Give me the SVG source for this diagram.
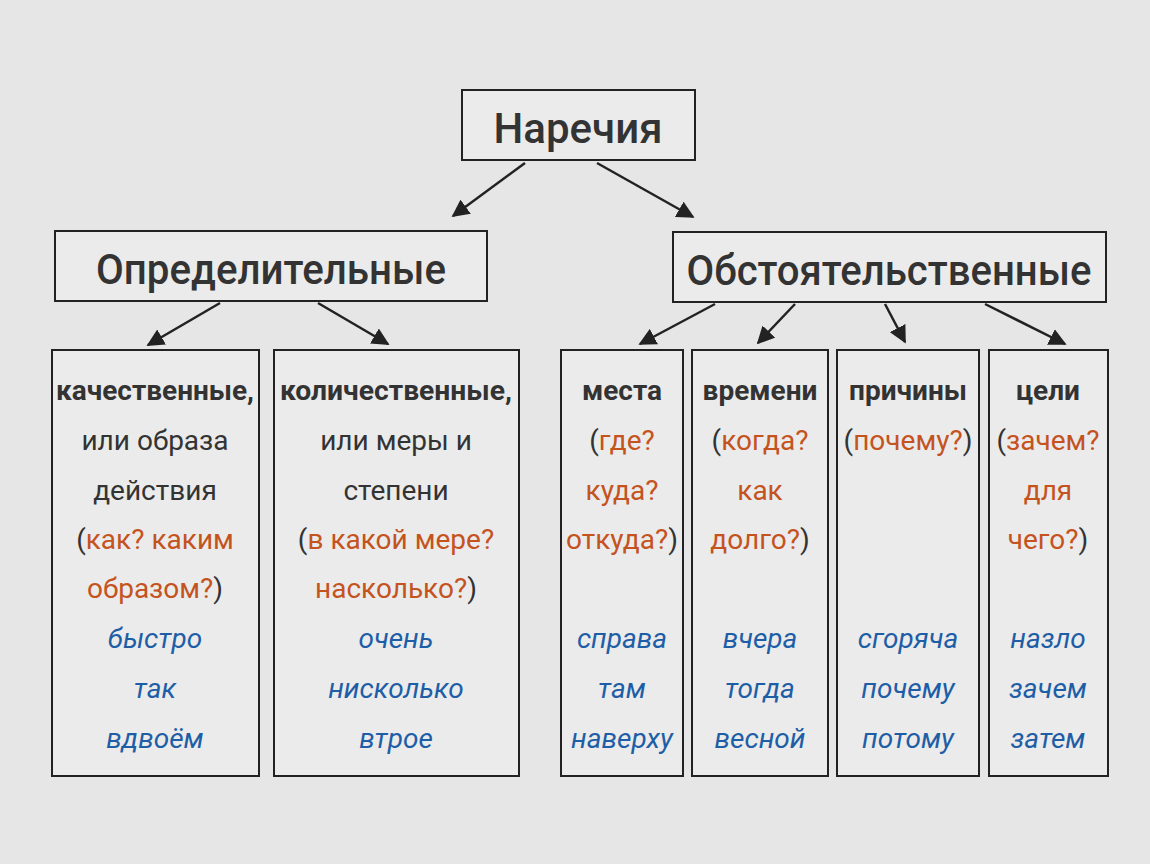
<svg xmlns="http://www.w3.org/2000/svg" width="1150" height="864" viewBox="0 0 1150 864">
<defs>
<marker id="ah" viewBox="0 0 10 10" refX="9" refY="5" markerWidth="7" markerHeight="7" orient="auto-start-reverse"><path d="M0,0 L10,5 L0,10 z" fill="#222"/></marker>
<style>
.box{fill:#ebebeb;stroke:#222;stroke-width:2}
text{font-family:Roboto,"Noto Sans",sans-serif;fill:#333;text-anchor:middle}
.h{font-size:42px;font-weight:500}
.t{font-size:28px}
.b{font-weight:bold}
.o{fill:#c4531e}
.e{fill:#1e5ea6;font-style:italic}
.c line{stroke:#222;stroke-width:2.5;marker-end:url(#ah)}
</style>
</defs>
<rect width="1150" height="864" fill="#e6e6e6"/>
<g id="n-root"><rect class="box" x="462" y="90" width="233" height="70"/><text class="h" x="578" y="143">Наречия</text></g>
<g id="n-opr"><rect class="box" x="55" y="231" width="432" height="70"/><text class="h" x="271" y="284" textLength="350" lengthAdjust="spacingAndGlyphs">Определительные</text></g>
<g id="n-obs"><rect class="box" x="673" y="232" width="433" height="70"/><text class="h" x="889" y="285" textLength="405" lengthAdjust="spacingAndGlyphs">Обстоятельственные</text></g>
<g id="n-kach"><rect class="box" x="52" y="350" width="207" height="426"/>
<text class="t" x="155"><tspan class="b" x="155" y="400" textLength="198" lengthAdjust="spacingAndGlyphs">качественные,</tspan><tspan x="155" y="450">или образа</tspan><tspan x="155" y="500">действия</tspan><tspan x="155" y="549">(<tspan class="o">как? каким</tspan></tspan><tspan x="155" y="598"><tspan class="o">образом?</tspan>)</tspan><tspan class="e" x="155" y="648">быстро</tspan><tspan class="e" x="155" y="698">так</tspan><tspan class="e" x="155" y="748">вдвоём</tspan></text></g>
<g id="n-kol"><rect class="box" x="274" y="350" width="245" height="426"/>
<text class="t" x="396"><tspan class="b" x="396" y="400" textLength="232" lengthAdjust="spacingAndGlyphs">количественные,</tspan><tspan x="396" y="450">или меры и</tspan><tspan x="396" y="500">степени</tspan><tspan x="396" y="549">(<tspan class="o">в какой мере?</tspan></tspan><tspan x="396" y="598"><tspan class="o">насколько?</tspan>)</tspan><tspan class="e" x="396" y="648">очень</tspan><tspan class="e" x="396" y="698">нисколько</tspan><tspan class="e" x="396" y="748">втрое</tspan></text></g>
<g id="n-mesta"><rect class="box" x="561" y="350" width="122" height="426"/>
<text class="t" x="622"><tspan class="b" x="622" y="400">места</tspan><tspan x="622" y="450">(<tspan class="o">где?</tspan></tspan><tspan class="o" x="622" y="500">куда?</tspan><tspan x="622" y="549"><tspan class="o">откуда?</tspan>)</tspan><tspan class="e" x="622" y="648">справа</tspan><tspan class="e" x="622" y="698">там</tspan><tspan class="e" x="622" y="748">наверху</tspan></text></g>
<g id="n-vrem"><rect class="box" x="692" y="350" width="136" height="426"/>
<text class="t" x="760"><tspan class="b" x="760" y="400">времени</tspan><tspan x="760" y="450">(<tspan class="o">когда?</tspan></tspan><tspan class="o" x="760" y="500">как</tspan><tspan x="760" y="549"><tspan class="o">долго?</tspan>)</tspan><tspan class="e" x="760" y="648">вчера</tspan><tspan class="e" x="760" y="698">тогда</tspan><tspan class="e" x="760" y="748">весной</tspan></text></g>
<g id="n-prich"><rect class="box" x="837" y="350" width="142" height="426"/>
<text class="t" x="908"><tspan class="b" x="908" y="400">причины</tspan><tspan x="908" y="450">(<tspan class="o">почему?</tspan>)</tspan><tspan class="e" x="908" y="648">сгоряча</tspan><tspan class="e" x="908" y="698">почему</tspan><tspan class="e" x="908" y="748">потому</tspan></text></g>
<g id="n-celi"><rect class="box" x="989" y="350" width="119" height="426"/>
<text class="t" x="1048"><tspan class="b" x="1048" y="400">цели</tspan><tspan x="1048" y="450">(<tspan class="o">зачем?</tspan></tspan><tspan class="o" x="1048" y="500">для</tspan><tspan x="1048" y="549"><tspan class="o">чего?</tspan>)</tspan><tspan class="e" x="1048" y="648">назло</tspan><tspan class="e" x="1048" y="698">зачем</tspan><tspan class="e" x="1048" y="748">затем</tspan></text></g>
<g class="c" id="connectors">
<line x1="525" y1="163" x2="453" y2="216"/>
<line x1="597" y1="163" x2="693" y2="217"/>
<line x1="220" y1="303" x2="148" y2="345"/>
<line x1="318" y1="303" x2="388" y2="344"/>
<line x1="715" y1="304" x2="640" y2="344"/>
<line x1="795" y1="304" x2="758" y2="343"/>
<line x1="885" y1="304" x2="905" y2="342"/>
<line x1="985" y1="304" x2="1065" y2="344"/>
</g>
</svg>
